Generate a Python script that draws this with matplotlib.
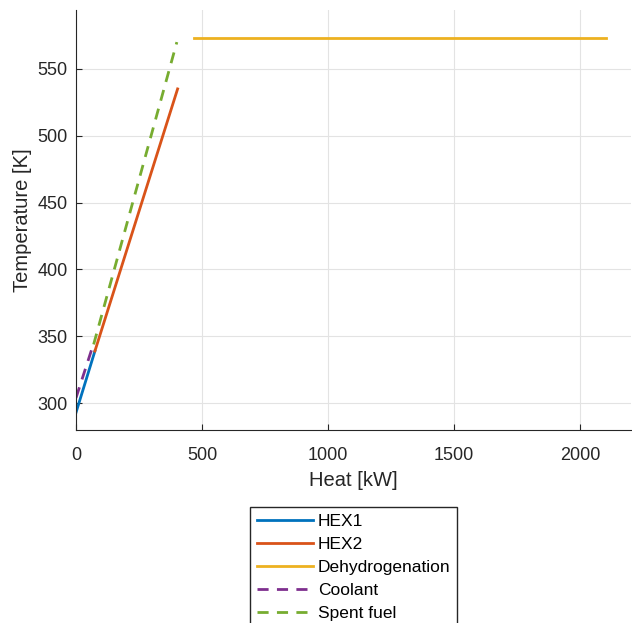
import numpy as np
import matplotlib
matplotlib.use('Agg')
import matplotlib.pyplot as plt

plt.rcParams['font.family'] = ['Liberation Sans', 'DejaVu Sans']

# heat [kW] vs temperature [K]
hex1_q = [0, 75]
hex1_t = [293, 339]
hex2_q = [75, 403]
hex2_t = [339, 535]
dehyd_q = [468, 2103]
dehyd_t = [573, 573]
coolant_q = [0, 67]
coolant_t = [304, 343]
spent_q = [70, 400]
spent_t = [344, 570]

fig = plt.figure(figsize=(6.32, 6.23), dpi=100)
ax = fig.add_axes([76/632, 1 - 430/623, (630.7 - 76)/632, 420/623])

dash = (0, (4, 3))
ax.plot(hex1_q, hex1_t, color='#0072BD', lw=2, label='HEX1')
ax.plot(hex2_q, hex2_t, color='#D95319', lw=2, label='HEX2')
ax.plot(dehyd_q, dehyd_t, color='#EDB120', lw=2, label='Dehydrogenation')
ax.plot(coolant_q, coolant_t, color='#7E2F8E', lw=2, ls=dash, label='Coolant')
ax.plot(spent_q, spent_t, color='#77AC30', lw=2, ls=dash, label='Spent fuel')

ax.set_xlim(0, 2200)
ax.set_ylim(280, 594)
ax.set_xticks([0, 500, 1000, 1500, 2000])
ax.set_yticks([300, 350, 400, 450, 500, 550])
ax.grid(True, color='#e3e3e3', lw=0.8)
ax.set_axisbelow(True)
for s in ['top', 'right']:
    ax.spines[s].set_visible(False)
for s in ['left', 'bottom']:
    ax.spines[s].set_color('#262626')
ax.tick_params(direction='in', length=4, colors='#262626', labelsize=13)
ax.tick_params(axis='y', pad=6)
ax.tick_params(axis='x', pad=12)
ax.set_xlabel('Heat [kW]', fontsize=14.5, color='#262626', labelpad=5)
ax.set_ylabel('Temperature [K]', fontsize=14.5, color='#262626')

fig.legend(loc='upper left', bbox_to_anchor=(250/632, 1 - 507/623), fontsize=12.5,
           handlelength=3.2, handletextpad=0.3, labelspacing=0.45, borderaxespad=0,
           fancybox=False, edgecolor='#262626', framealpha=1, borderpad=0.4)

fig.savefig('out.png', dpi=100)
